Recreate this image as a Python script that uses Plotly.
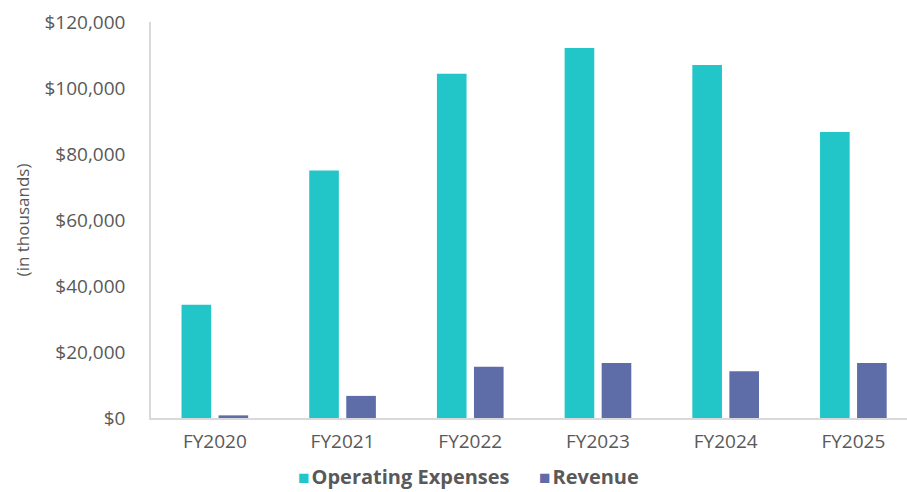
import plotly.graph_objects as go

years = ["FY2020", "FY2021", "FY2022", "FY2023", "FY2024", "FY2025"]
operating_expenses = [34300, 75000, 104300, 112100, 107000, 86700]
revenue = [800, 6700, 15500, 16700, 14200, 16700]
y_ticks = [0, 20000, 40000, 60000, 80000, 100000, 120000]
y_tick_labels = ["$0", "$20,000", "$40,000", "$60,000", "$80,000", "$100,000", "$120,000"]

teal = "#22C6C8"
slate = "#5E6CA8"
gray = "#595959"
font_family = "'Open Sans', 'Noto Sans', sans-serif"

fig = go.Figure()
fig.add_trace(go.Bar(x=years, y=operating_expenses, name="Operating Expenses",
                     marker=dict(color=teal, line=dict(width=0))))
fig.add_trace(go.Bar(x=years, y=revenue, name="Revenue",
                     marker=dict(color=slate, line=dict(width=0))))

# legend drawn as text so the swatch sits right next to the label, like the original
# (left edge in pixels of the 907px page)
legend_items = [("Operating Expenses", teal, 296), ("Revenue", slate, 537)]
for name, color, left_px in legend_items:
    fig.add_annotation(
        text=f"<span style='color:{color};font-size:19px'>■</span>\u200a{name}",
        xref="paper", yref="paper", x=(left_px - 151) / 756, y=-58 / 396,
        xanchor="left", yanchor="middle", showarrow=False,
        font=dict(size=20, color=gray, weight="bold", family=font_family),
    )

fig.update_layout(
    width=907, height=492,
    margin=dict(l=151, r=0, t=22, b=74, autoexpand=False),
    plot_bgcolor="white", paper_bgcolor="white",
    barmode="group", bargap=0.42, bargroupgap=0.2,
    font=dict(family=font_family, color=gray, size=19),
    showlegend=False,
    xaxis=dict(range=[-0.5, 5.42], showline=True, linecolor="#D9D9D9", linewidth=1.5,
               ticks="", tickfont=dict(size=19, color=gray), showgrid=False,
               ticklabelstandoff=5, automargin=False),
    yaxis=dict(range=[0, 120000], tickvals=y_ticks, ticktext=y_tick_labels,
               showline=True, linecolor="#D9D9D9", linewidth=1.5, showgrid=False,
               zeroline=False, ticks="", ticklabelstandoff=20, automargin=False,
               tickfont=dict(size=19, color=gray),
               title=dict(text="(in thousands)", font=dict(size=17, color=gray), standoff=11)),
)

fig.write_html("out.html", config={"displayModeBar": False},
               post_script="document.body.style.margin='0';")
